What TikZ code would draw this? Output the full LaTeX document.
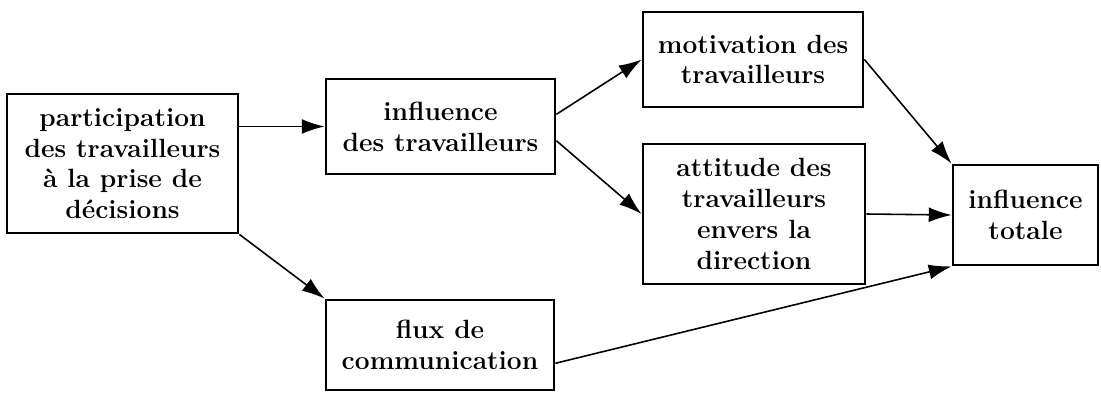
\documentclass[tikz,border=0pt]{standalone}
\usepackage{tikz}
\usetikzlibrary{arrows.meta}

\tikzset{
	bloc/.style={draw, line width=1.6pt, align=center, inner sep=0pt,
		font=\fontsize{15}{17.5}\selectfont\bfseries},
	fleche/.style={line width=0.9pt, -{Latex[length=13pt,width=8.5pt]}}
}

\begin{document}
\begin{tikzpicture}[x=0.02cm, y=-0.02cm]
			\useasboundingbox (0,0) rectangle (1101,395);
			\node[bloc, minimum width=4.62cm, minimum height=2.78cm] (particip) at (122.5,163.5) {participation\\des travailleurs\\à la prise de\\décisions};
			\node[bloc, minimum width=4.58cm, minimum height=1.90cm] (influ) at (440.5,126.5) {influence\\des travailleurs};
			\node[bloc, minimum width=4.40cm, minimum height=1.90cm] (motiv) at (753,59.5) {motivation des\\travailleurs};
			\node[bloc, minimum width=4.44cm, minimum height=2.80cm] (attit) at (754,214) {attitude des\\travailleurs\\envers la\\direction};
			\node[bloc, minimum width=4.56cm, minimum height=1.80cm] (flux) at (440,345) {flux de\\communication};
			\node[bloc, minimum width=2.90cm, minimum height=2.00cm] (totale) at (1025.5,215) {influence\\totale};
			\draw[fleche] (particip.east |- influ.west) -- (influ.west);
			\draw[fleche] (particip.south east) -- (flux.north west);
			\draw[fleche] (influ.6) -- (motiv.west);
			\draw[fleche] (influ.-7) -- (attit.west);
			\draw[fleche] (motiv.east) -- (totale.north west);
			\draw[fleche] (attit.east) -- (totale.west);
			\draw[fleche] (flux.-9) -- (totale.south west);
	\end{tikzpicture}
\end{document}
